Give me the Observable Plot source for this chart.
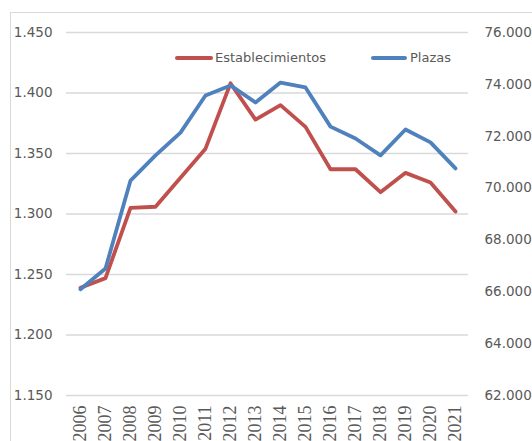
<!DOCTYPE html>
<html>
<head>
<meta charset="utf-8">
<script src="https://cdn.jsdelivr.net/npm/d3@7"></script>
<script src="https://cdn.jsdelivr.net/npm/@observablehq/plot@0.6"></script>
<style>
  html, body { margin: 0; padding: 0; background: #fff; }
  #wrap { position: relative; width: 532px; height: 441px; overflow: hidden; background: #fff; }
  #frame { position: absolute; left: 10px; top: 12px; width: 600px; height: 500px; border: 1.5px solid #d9d9d9; box-sizing: border-box; }
  #chart { position: absolute; left: 0; top: 0; }
  .leg { position: absolute; font-family: "DejaVu Sans", sans-serif; font-size: 13px; color: #595959; line-height: 16px; white-space: nowrap; }
  .sw { position: absolute; height: 4px; border-radius: 2px; }
</style>
</head>
<body>
<div id="wrap">
  <div id="frame"></div>
  <div id="chart"></div>
  <div class="sw" style="left:175px; top:56px; width:38px; background:#C0504D;"></div>
  <div class="leg" style="left:215px; top:50px;">Establecimientos</div>
  <div class="sw" style="left:371px; top:56px; width:36px; background:#4F81BD;"></div>
  <div class="leg" style="left:410px; top:50px;">Plazas</div>
</div>
<script>
const years = [2006, 2007, 2008, 2009, 2010, 2011, 2012, 2013, 2014, 2015, 2016, 2017, 2018, 2019, 2020, 2021];
const establecimientos = [1239, 1247, 1305, 1306, 1330, 1354, 1408, 1378, 1390, 1372, 1337, 1337, 1318, 1334, 1326, 1302];
const plazas = [66100, 66900, 70290, 71260, 72140, 73570, 73960, 73300, 74070, 73880, 72370, 71910, 71260, 72260, 71760, 70760];
const leftTicks = [1150, 1200, 1250, 1300, 1350, 1400, 1450];
const rightTicks = [62000, 64000, 66000, 68000, 70000, 72000, 74000, 76000];

const L0 = 1150, L1 = 1450, R0 = 62000, R1 = 76000;
const toLeft = v => L0 + (v - R0) * (L1 - L0) / (R1 - R0);
const toRight = v => R0 + (v - L0) * (R1 - R0) / (L1 - L0);
const fmt = v => d3.format(",")(Math.round(v)).replace(/,/g, ".");

const rows = years.map((y, i) => ({year: y, est: establecimientos[i], plz: toLeft(plazas[i])}));

const chart = Plot.plot({
  width: 532,
  height: 441,
  marginLeft: 66,
  marginRight: 64,
  marginTop: 32,
  marginBottom: 46,
  style: {fontFamily: "DejaVu Sans, sans-serif", color: "#595959", background: "transparent", overflow: "visible"},
  x: {type: "point", domain: years, padding: 0.5},
  y: {domain: [L0, L1]},
  marks: [
    Plot.gridY(leftTicks, {stroke: "#d9d9d9", strokeOpacity: 1, strokeWidth: 1.5}),
    Plot.axisY(leftTicks, {anchor: "left", tickSize: 0, tickPadding: 14, tickFormat: fmt, fontSize: 13.5, label: null}),
    Plot.axisY(rightTicks.map(toLeft), {anchor: "right", tickSize: 0, tickPadding: 16, tickFormat: d => fmt(toRight(d)), fontSize: 13.5, label: null}),
    Plot.axisX(years, {tickSize: 0, tickRotate: -90, tickPadding: 10, fontSize: 18, fontFamily: "Liberation Serif, serif", tickFormat: d => String(d), label: null}),
    Plot.line(rows, {x: "year", y: "est", stroke: "#C0504D", strokeWidth: 3.8, strokeLinejoin: "round"}),
    Plot.line(rows, {x: "year", y: "plz", stroke: "#4F81BD", strokeWidth: 3.8, strokeLinejoin: "round"})
  ]
});
document.getElementById("chart").appendChild(chart);
</script>
</body>
</html>
